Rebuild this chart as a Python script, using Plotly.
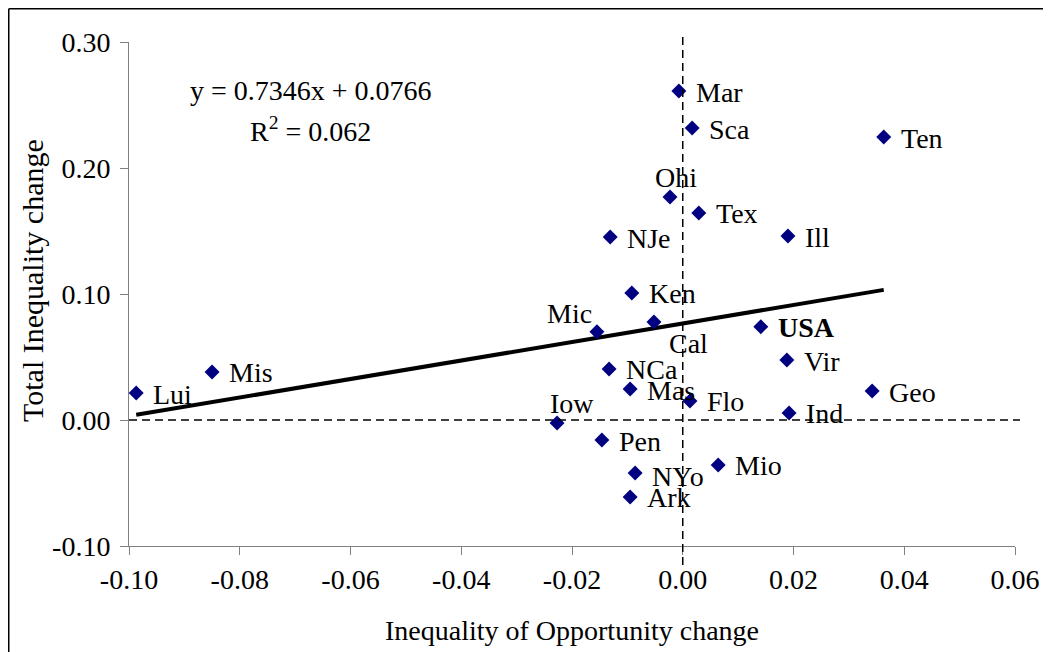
import plotly.graph_objects as go

# ---- data ----
states = ["Mar", "Sca", "Ten", "Ohi", "Tex", "NJe", "Ill", "Ken", "Mic", "Cal",
          "USA", "Vir", "NCa", "Mas", "Flo", "Geo", "Ind", "Iow", "Pen", "Mio",
          "NYo", "Ark", "Lui", "Mis"]
iop_change = [-0.0007, 0.0017, 0.0363, -0.0023, 0.0029, -0.0131, 0.0190, -0.0092,
              -0.0155, -0.0052, 0.0141, 0.0188, -0.0133, -0.0095, 0.0013, 0.0342,
              0.0192, -0.0227, -0.0146, 0.0064, -0.0086, -0.0095, -0.0987, -0.0850]
total_change = [0.2611, 0.2317, 0.2246, 0.1770, 0.1643, 0.1452, 0.1460, 0.1008,
                0.0700, 0.0778, 0.0740, 0.0476, 0.0405, 0.0246, 0.0151, 0.0230,
                0.0056, -0.0024, -0.0159, -0.0357, -0.0421, -0.0611, 0.0214, 0.0381]

trend_slope = 0.7346
trend_intercept = 0.0766
r_squared = 0.062

x_ticks = [-0.10, -0.08, -0.06, -0.04, -0.02, 0.00, 0.02, 0.04, 0.06]
x_tick_labels = ["-0.10", "-0.08", "-0.06", "-0.04", "-0.02", "0.00", "0.02", "0.04", "0.06"]
y_ticks = [-0.10, 0.00, 0.10, 0.20, 0.30]
y_tick_labels = ["-0.10", "0.00", "0.10", "0.20", "0.30"]

x_title = "Inequality of Opportunity change"
y_title = "Total Inequality change"

# ---- style ----
FONT = "Liberation Serif, Times New Roman, serif"
FS = 28
NAVY = "#000080"
# the page body has an 8px margin, so the figure is 8px smaller and
# all pixel positions below are given in page (screenshot) pixels
OFF = 8
W, H = 1051 - OFF, 652 - OFF
ML, MT = 129 - OFF, 42 - OFF
MR, MB = 1051 - 1015, 652 - 546
PW, PH = W - ML - MR, H - MT - MB
x_range = [x_ticks[0], x_ticks[-1]]
y_range = [y_ticks[0], y_ticks[-1]]

# label placement: (xanchor, xshift, yshift)
default_place = ("left", 15, -1)
label_place = {
    "Ohi": ("center", 6, 19),
    "Mic": ("center", -27, 18),
    "Cal": ("left", 13, -22),
    "Iow": ("center", 15, 20),
    "NYo": ("left", 15, -3),
}


def px_to_paper_x(px):
    return (px - OFF - ML) / PW


def px_to_paper_y(py):
    return 1 - (py - OFF - MT) / PH


def data_to_paper_y(v):
    return (v - y_range[0]) / (y_range[1] - y_range[0])


fig = go.Figure()

# trend line
x_lo, x_hi = min(iop_change), max(iop_change)
fig.add_trace(go.Scatter(
    x=[x_lo, x_hi],
    y=[trend_slope * x_lo + trend_intercept, trend_slope * x_hi + trend_intercept],
    mode="lines", line=dict(color="black", width=4), hoverinfo="skip",
))

# points
fig.add_trace(go.Scatter(
    x=iop_change, y=total_change, mode="markers",
    marker=dict(symbol="diamond", size=11.5, color=NAVY, line=dict(width=0)),
    text=states, cliponaxis=False,
))

annotations = []
for s, xv, yv in zip(states, iop_change, total_change):
    xa, xs, ys = label_place.get(s, default_place)
    annotations.append(dict(
        x=xv, y=yv, xref="x", yref="y", showarrow=False,
        text=f"<b>{s}</b>" if s == "USA" else s,
        xanchor=xa, yanchor="middle", xshift=xs, yshift=ys,
        font=dict(family=FONT, size=FS, color="black"),
    ))

annotations.append(dict(
    x=px_to_paper_x(311), y=px_to_paper_y(90), xref="paper", yref="paper",
    showarrow=False, xanchor="center", yanchor="middle",
    text=f"y = {trend_slope}x + {trend_intercept}",
    font=dict(family=FONT, size=FS, color="black"),
))
annotations.append(dict(
    x=px_to_paper_x(310), y=px_to_paper_y(129), xref="paper", yref="paper",
    showarrow=False, xanchor="center", yanchor="middle",
    text=f"R<sup>2</sup> = {r_squared}",
    font=dict(family=FONT, size=FS, color="black"),
))
# y-axis title (placed as in the reference, slightly above plot centre)
annotations.append(dict(
    x=px_to_paper_x(32), y=px_to_paper_y(281), xref="paper", yref="paper",
    showarrow=False, xanchor="center", yanchor="middle", textangle=-90,
    text=y_title,
    font=dict(family=FONT, size=30, color="black"),
))

dash = "8px,5px"
shapes = [
    # vertical dashed line at x = 0
    dict(type="line", xref="x", yref="paper", x0=0, x1=0,
         y0=data_to_paper_y(-0.115), y1=data_to_paper_y(0.306),
         line=dict(color="black", width=1.5, dash=dash)),
    # horizontal dashed line at y = 0
    dict(type="line", xref="paper", yref="y", x0=0, x1=px_to_paper_x(1020),
         y0=0, y1=0, line=dict(color="black", width=1.5, dash=dash)),
    # outer frame (top and left)
    dict(type="line", xref="paper", yref="paper",
         x0=px_to_paper_x(8.75), x1=px_to_paper_x(1060),
         y0=px_to_paper_y(8.75), y1=px_to_paper_y(8.75),
         line=dict(color="black", width=1.5)),
    dict(type="line", xref="paper", yref="paper",
         x0=px_to_paper_x(8.75), x1=px_to_paper_x(8.75),
         y0=px_to_paper_y(8.75), y1=px_to_paper_y(660),
         line=dict(color="black", width=1.5)),
]

axis_common = dict(
    showgrid=False, zeroline=False, showline=True, linecolor="#808080",
    linewidth=1, ticks="outside", ticklen=8, tickcolor="#808080", tickwidth=1,
    tickfont=dict(family=FONT, size=FS, color="black"),
)

fig.update_layout(
    width=W, height=H,
    margin=dict(l=ML, r=MR, t=MT, b=MB),
    paper_bgcolor="white", plot_bgcolor="white",
    showlegend=False,
    font=dict(family=FONT, size=FS, color="black"),
    xaxis=dict(range=x_range, tickvals=x_ticks, ticktext=x_tick_labels,
               title=dict(text=x_title, standoff=26,
                          font=dict(family=FONT, size=FS, color="black")),
               **axis_common),
    yaxis=dict(range=y_range, tickvals=y_ticks, ticktext=y_tick_labels,
               ticklabelstandoff=4,
               **axis_common),
    annotations=annotations,
    shapes=shapes,
)

fig.write_html("out.html")
